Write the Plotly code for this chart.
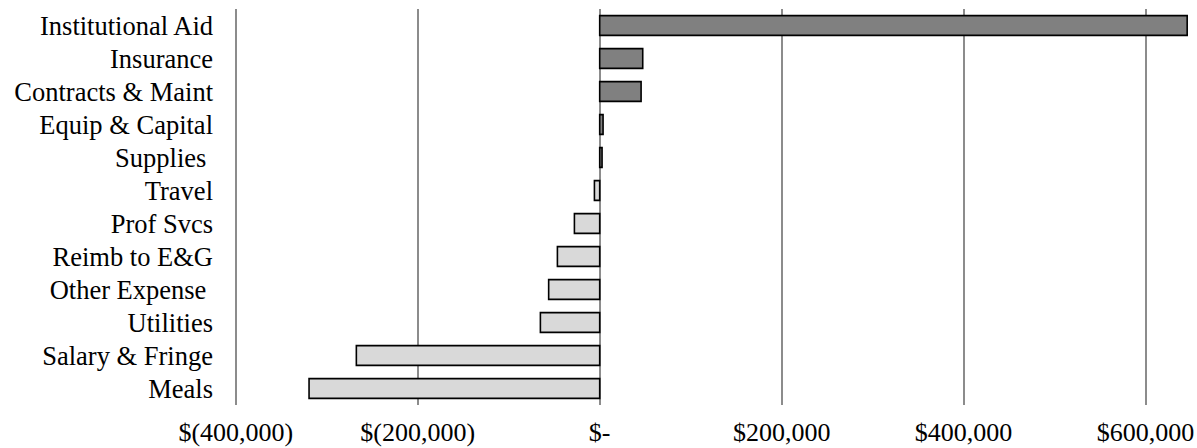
import plotly.graph_objects as go

# Budget variance by category (top to bottom)
categories = [
    "Institutional Aid", "Insurance", "Contracts & Maint", "Equip & Capital",
    "Supplies\u00a0", "Travel", "Prof Svcs", "Reimb to E&G",
    "Other Expense\u00a0", "Utilities", "Salary & Fringe", "Meals",
]
variance = [
    645800, 47300, 45500, 3700,
    2600, -5800, -27800, -46500,
    -56100, -65200, -267500, -319500,
]

tick_vals = [-400000, -200000, 0, 200000, 400000, 600000]
tick_text = ["$(400,000)", "$(200,000)", "$-", "$200,000", "$400,000", "$600,000"]

POS_COLOR = "#808080"
NEG_COLOR = "#d9d9d9"
bar_colors = [POS_COLOR if v >= 0 else NEG_COLOR for v in variance]

fig = go.Figure(
    go.Bar(
        x=variance,
        y=categories,
        orientation="h",
        width=0.6,
        marker=dict(color=bar_colors, line=dict(color="#000000", width=1.6)),
        hoverinfo="x+y",
    )
)

font_family = "Liberation Serif, Times New Roman, serif"

fig.update_layout(
    width=1197,
    height=448,
    margin=dict(l=234, r=6, t=9, b=43),
    paper_bgcolor="white",
    plot_bgcolor="white",
    showlegend=False,
    font=dict(family=font_family, size=26, color="#000000"),
)

fig.update_xaxes(
    range=[-402000, 650000],
    tickvals=tick_vals,
    ticktext=tick_text,
    showgrid=True,
    gridcolor="#8c8c8c",
    gridwidth=1.5,
    zeroline=True,
    zerolinecolor="#8c8c8c",
    zerolinewidth=1.5,
    showline=False,
    ticks="",
    ticklabelstandoff=9,
    automargin=False,
    tickfont=dict(family=font_family, size=26, color="#000000"),
)

fig.update_yaxes(
    autorange="reversed",
    tickmode="array",
    tickvals=categories,
    ticktext=categories,
    showgrid=False,
    showline=False,
    ticks="",
    ticklabelstandoff=20,
    automargin=False,
    tickfont=dict(family=font_family, size=26.5, color="#000000"),
)

fig.write_html("out.html")
